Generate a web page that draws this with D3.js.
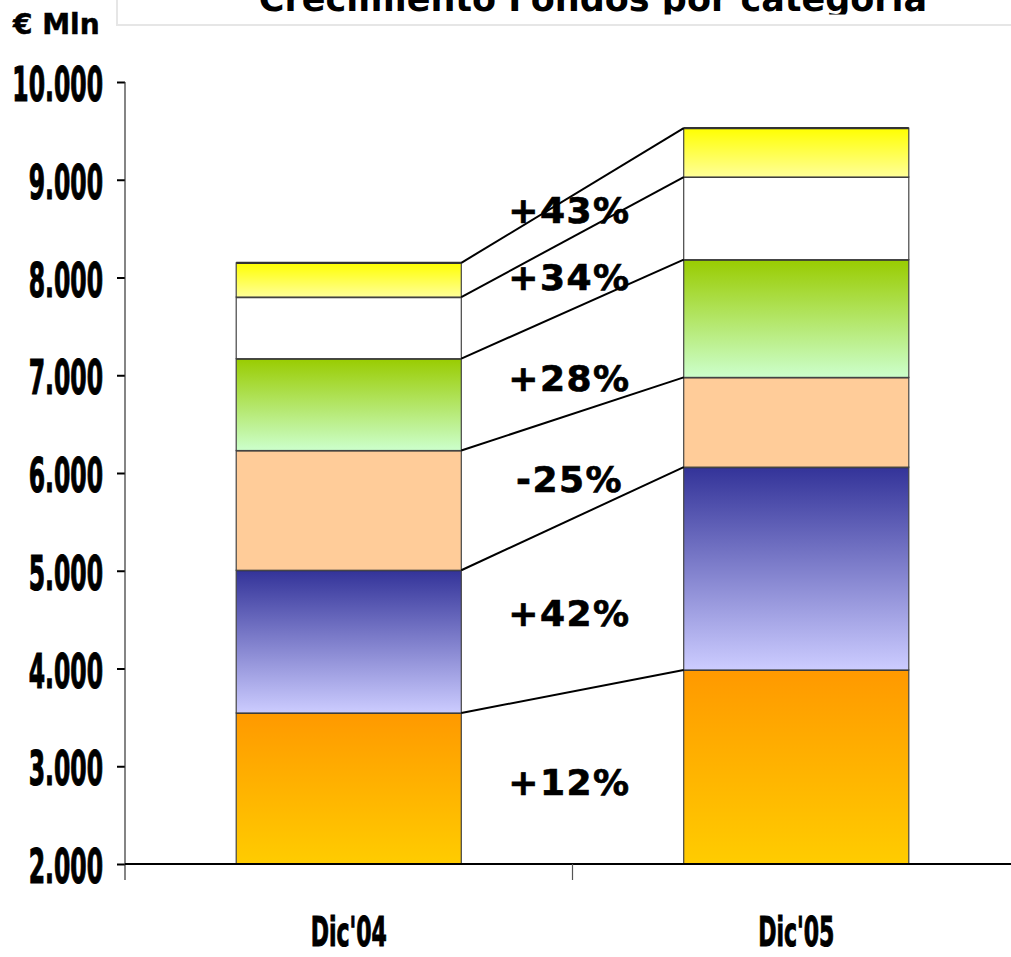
<!DOCTYPE html>
<html>
<head>
<meta charset="utf-8">
<script src="https://cdn.jsdelivr.net/npm/d3@7"></script>
<style>
  html, body { margin: 0; padding: 0; background: #ffffff; }
  svg { display: block; }
</style>
</head>
<body>
<svg id="chart" width="1011" height="957"></svg>
<script>
// ---- data -------------------------------------------------------------
const periods = ["Dic'04", "Dic'05"];
// fund categories, stacked bottom to top
const seriesKeys = ["cat1", "cat2", "cat3", "cat4", "cat5", "cat6"];
const valuesDic04 = [3545, 1460, 1225, 940, 630, 350];
const valuesDic05 = [3985, 2075, 918, 1205, 845, 500];
const yTicks = [2000, 3000, 4000, 5000, 6000, 7000, 8000, 9000, 10000];
const yDomain = [2000, 10000];
const titleText = "Crecimiento Fondos por categoria";
const unitText = "€ Mln";

// ---- styles -----------------------------------------------------------
const fills = [
  { top: "#FF9900", bottom: "#FFCC00" },
  { top: "#333399", bottom: "#CCCCFF" },
  { top: "#FFCC99", bottom: "#FFCC99" },
  { top: "#99CC00", bottom: "#CCFFCC" },
  { top: "#FFFFFF", bottom: "#FFFFFF" },
  { top: "#FFFF00", bottom: "#FFFF99" }
];
// small vertical adjustments (px) for the change labels
const labelNudge = [5, 8, 13, 17, 4, -6];
const condensed = 0.49;   // horizontal squeeze of the axis lettering

const rows = periods.map((p, i) => {
  const r = { period: p };
  seriesKeys.forEach((k, j) => r[k] = (i === 0 ? valuesDic04 : valuesDic05)[j]);
  return r;
});
const stacked = d3.stack().keys(seriesKeys)(rows);

const svg = d3.select("#chart");
const defs = svg.append("defs");

// ---- scales -----------------------------------------------------------
const y = d3.scaleLinear().domain(yDomain).range([864, 82]);
const x = d3.scaleBand().domain(periods).range([125, 1020])
  .paddingInner(0.497).paddingOuter(0.2485);
const bw = x.bandwidth();

// ---- title frame ------------------------------------------------------
defs.append("clipPath").attr("id", "titleClip")
  .append("rect").attr("x", 0).attr("y", -60).attr("width", 1011).attr("height", 74.5);
svg.append("rect")
  .attr("x", 117).attr("y", -6).attr("width", 1000).attr("height", 31)
  .attr("fill", "#ffffff").attr("stroke", "#e6e6e6").attr("stroke-width", 2);
svg.append("text")
  .attr("clip-path", "url(#titleClip)")
  .attr("x", 593).attr("y", 11)
  .attr("text-anchor", "middle")
  .attr("font-family", "'DejaVu Sans', Verdana, sans-serif")
  .attr("font-weight", "bold").attr("font-size", 35)
  .attr("fill", "#000")
  .text(titleText);

svg.append("text")
  .attr("x", 13).attr("y", 34)
  .attr("font-family", "'DejaVu Sans', Verdana, sans-serif")
  .attr("font-weight", "bold").attr("font-size", 28)
  .attr("fill", "#000").attr("stroke", "#000").attr("stroke-width", 0.5)
  .text(unitText);

// ---- gradients --------------------------------------------------------
fills.forEach((f, i) => {
  const g = defs.append("linearGradient").attr("id", "grad" + i)
    .attr("x1", 0).attr("y1", 0).attr("x2", 0).attr("y2", 1);
  g.append("stop").attr("offset", "0%").attr("stop-color", f.top);
  g.append("stop").attr("offset", "100%").attr("stop-color", f.bottom);
});

// ---- bars -------------------------------------------------------------
const lo = v => Math.max(v, yDomain[0]);
const layers = svg.append("g").selectAll("g").data(stacked).join("g");
layers.selectAll("rect").data((s, i) => s.map(d => ({ d, i }))).join("rect")
  .attr("x", o => x(o.d.data.period))
  .attr("y", o => y(o.d[1]))
  .attr("width", bw)
  .attr("height", o => y(lo(o.d[0])) - y(o.d[1]))
  .attr("fill", o => `url(#grad${o.i})`)
  .attr("stroke", "#444444").attr("stroke-width", 1.2);
// heavier segment tops
layers.selectAll("line").data(s => s).join("line")
  .attr("x1", d => x(d.data.period)).attr("x2", d => x(d.data.period) + bw)
  .attr("y1", d => y(d[1])).attr("y2", d => y(d[1]))
  .attr("stroke", "#333333").attr("stroke-width", 2.2);

// ---- connectors between the two bars -----------------------------------
const xa = x(periods[0]) + bw, xb = x(periods[1]);
svg.append("g").selectAll("line").data(stacked).join("line")
  .attr("x1", xa).attr("y1", s => y(s[0][1]))
  .attr("x2", xb).attr("y2", s => y(s[1][1]))
  .attr("stroke", "#000").attr("stroke-width", 2);

// ---- change labels ----------------------------------------------------
const pctFmt = v => (v > 0 ? "+" : "") + v + "%";
svg.append("g").selectAll("text").data(stacked).join("text")
  .attr("x", (xa + xb) / 2 - 3)
  .attr("y", (s, i) => {
    const c = (y(lo(s[0][0])) + y(s[0][1]) + y(lo(s[1][0])) + y(s[1][1])) / 4;
    return c + 12.5 + labelNudge[i];
  })
  .attr("text-anchor", "middle")
  .attr("font-family", "'DejaVu Sans', Verdana, sans-serif")
  .attr("font-weight", "bold").attr("font-size", 36)
  .attr("letter-spacing", 1.5)
  .attr("fill", "#000").attr("stroke", "#000").attr("stroke-width", 0.7)
  .text(s => {
    const a = s[0][1] - s[0][0], b = s[1][1] - s[1][0];
    return pctFmt(Math.round((b / a - 1) * 100));
  });

// ---- y axis -----------------------------------------------------------
const locale = d3.formatLocale({ decimal: ",", thousands: ".", grouping: [3], currency: ["€", ""] });
const numFmt = locale.format(",d");
const yAxis = svg.append("g").attr("transform", "translate(125,0)")
  .call(d3.axisLeft(y).tickValues(yTicks).tickFormat(numFmt).tickSize(8).tickSizeOuter(0));
yAxis.select(".domain").remove();
yAxis.selectAll(".tick line").attr("stroke", "#000").attr("stroke-width", 2);
yAxis.selectAll(".tick text")
  .attr("x", 0).attr("dy", null)
  .attr("transform", `translate(-22,18.5) scale(${condensed},1)`)
  .attr("text-anchor", "end")
  .attr("font-family", "'DejaVu Sans', Verdana, sans-serif")
  .attr("font-weight", "bold").attr("font-size", 48)
  .attr("fill", "#000").attr("stroke", "#000").attr("stroke-width", 1.2);
svg.append("line")
  .attr("x1", 125).attr("x2", 125)
  .attr("y1", y.range()[1]).attr("y2", y.range()[0] + 16)
  .attr("stroke", "#333").attr("stroke-width", 1.2);

// ---- x axis -----------------------------------------------------------
svg.append("line")
  .attr("x1", 125).attr("x2", 1011)
  .attr("y1", y.range()[0]).attr("y2", y.range()[0])
  .attr("stroke", "#000").attr("stroke-width", 2.2);
const boundaries = [xa + x.step() * x.paddingInner() / 2];
svg.append("g").selectAll("line").data(boundaries).join("line")
  .attr("x1", d => d).attr("x2", d => d)
  .attr("y1", y.range()[0]).attr("y2", y.range()[0] + 16)
  .attr("stroke", "#555").attr("stroke-width", 1.2);
svg.append("g").selectAll("text").data(periods).join("text")
  .attr("transform", p => `translate(${x(p) + bw / 2},946) scale(0.55,1)`)
  .attr("text-anchor", "middle")
  .attr("font-family", "'DejaVu Sans', Verdana, sans-serif")
  .attr("font-weight", "bold").attr("font-size", 40)
  .attr("fill", "#000").attr("stroke", "#000").attr("stroke-width", 1.1)
  .text(p => p);
</script>
</body>
</html>
